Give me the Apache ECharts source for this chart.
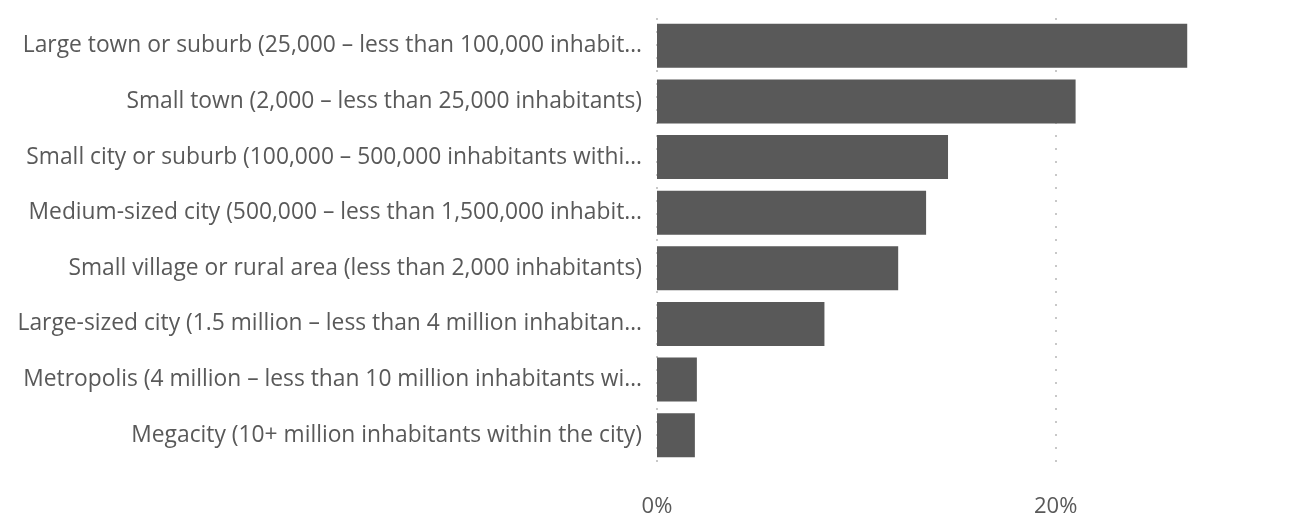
<!DOCTYPE html>
<html>
<head>
<meta charset="utf-8">
<script src="https://cdn.jsdelivr.net/npm/echarts@6/dist/echarts.min.js"></script>
<style>
html,body{margin:0;padding:0;background:#fff;}
#chart{width:1293px;height:527px;}
</style>
</head>
<body>
<div id="chart"></div>
<script>
const categories = [
  "Large town or suburb (25,000 – less than 100,000 inhabit…",
  "Small town (2,000 – less than 25,000 inhabitants)",
  "Small city or suburb (100,000 – 500,000 inhabitants withi…",
  "Medium-sized city (500,000 – less than 1,500,000 inhabit…",
  "Small village or rural area (less than 2,000 inhabitants)",
  "Large-sized city (1.5 million – less than 4 million inhabitan…",
  "Metropolis (4 million – less than 10 million inhabitants wi…",
  "Megacity (10+ million inhabitants within the city)"
];
const values = [26.6, 21.0, 14.6, 13.5, 12.1, 8.4, 2.0, 1.9];
const tickValues = [0, 20];

const chart = echarts.init(document.getElementById('chart'));
chart.setOption({
  animation: false,
  grid: { left: 657, top: 18, right: 38, height: 445, containLabel: false },
  xAxis: {
    type: 'value', min: 0, max: 30, interval: 20,
    axisLine: { show: false }, axisTick: { show: false },
    splitLine: { show: true, showMaxLine: false, lineStyle: { color: '#c8c8c8', type: [2, 11], width: 2 } },
    axisLabel: {
      color: '#595959', fontSize: 22, fontFamily: 'Open Sans', margin: 33,
      showMaxLabel: false,
      formatter: v => tickValues.includes(v) ? v + '%' : ''
    }
  },
  yAxis: {
    type: 'category', inverse: true, data: categories,
    axisLine: { show: false }, axisTick: { show: false },
    axisLabel: { color: '#595959', fontSize: 22.8, fontFamily: 'Open Sans', margin: 15 }
  },
  series: [{
    type: 'bar', data: values, barWidth: 44,
    itemStyle: { color: '#595959' }
  }]
});
</script>
</body>
</html>
